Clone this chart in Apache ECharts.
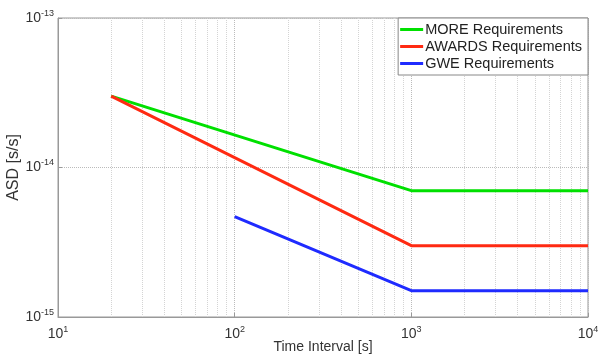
<!DOCTYPE html>
<html><head><meta charset="utf-8">
<script src="https://cdn.jsdelivr.net/npm/echarts@6/dist/echarts.min.js"></script>
<style>html,body{margin:0;padding:0;background:#fff}#c{width:599px;height:359px}</style>
</head><body><div id="c"></div>
<script>
const seriesNames = ['MORE Requirements', 'AWARDS Requirements', 'GWE Requirements'];
const moreX = [20, 1000, 10000];
const moreY = [3.0e-14, 7.0e-15, 7.0e-15];
const awardsX = [20, 1000, 10000];
const awardsY = [3.0e-14, 3.0e-15, 3.0e-15];
const gweX = [100, 1000, 10000];
const gweY = [4.7e-15, 1.5e-15, 1.5e-15];
const xMinorTicks = [20,30,40,50,60,70,80,90,200,300,400,500,600,700,800,900,2000,3000,4000,5000,6000,7000,8000,9000];
const yMinorTicks = [2e-15,3e-15,4e-15,5e-15,6e-15,7e-15,8e-15,9e-15,2e-14,3e-14,4e-14,5e-14,6e-14,7e-14,8e-14,9e-14];
const colors = ['#00e000', '#ff2a12', '#1f2bff'];

const pair = (xs, ys) => xs.map((x, i) => [x, ys[i]]);
const expLabel = v => '{b|10}{s|' + Math.round(Math.log10(v)) + '}';
const rich = { b: { fontSize: 14, color: '#333', fontFamily: 'Liberation Sans' },
               s: { fontSize: 9, color: '#333', fontFamily: 'Liberation Sans', verticalAlign: 'top', padding: [0,0,9,0] } };

const minorLines = []
  .concat(xMinorTicks.map(v => ({ xAxis: v })))
  .concat(yMinorTicks.map(v => ({ yAxis: v })));

const chart = echarts.init(document.getElementById('c'), null, { renderer: 'canvas' });
chart.setOption({
  animation: false,
  color: colors,
  textStyle: { fontFamily: 'Liberation Sans' },
  grid: { left: 58, right: 11, top: 18, bottom: 42, show: true, borderColor: '#999', borderWidth: 1,
          containLabel: false, outerBoundsMode: 'none' },
  legend: {
    orient: 'vertical', right: 11, top: 18, data: seriesNames,
    icon: 'rect', itemWidth: 23, itemHeight: 3, itemGap: 2,
    backgroundColor: '#fff', borderColor: '#888', borderWidth: 1, padding: [4, 6, 4, 2],
    textStyle: { fontSize: 14.5, color: '#222', fontFamily: 'Liberation Sans', padding: [0,0,0,-3] }
  },
  xAxis: {
    type: 'log', logBase: 10, min: 10, max: 10000,
    name: 'Time Interval [s]', nameLocation: 'middle', nameGap: 23, nameMoveOverlap: false,
    nameTextStyle: { fontSize: 14, color: '#333' },
    axisLine: { lineStyle: { color: '#999' } },
    axisTick: { inside: true, length: 4, lineStyle: { color: '#999' } },
    axisLabel: { formatter: expLabel, rich: rich, margin: 8 },
    splitLine: { show: true, lineStyle: { type: 'dotted', color: '#bbb' } }
  },
  yAxis: {
    type: 'log', logBase: 10, min: 1e-15, max: 1e-13,
    name: 'ASD [s/s]', nameLocation: 'middle', nameGap: 36, nameMoveOverlap: false,
    nameTextStyle: { fontSize: 16, color: '#333' },
    axisLine: { lineStyle: { color: '#999' } },
    axisTick: { inside: true, length: 4, lineStyle: { color: '#999' } },
    axisLabel: { formatter: expLabel, rich: rich, margin: 4 },
    splitLine: { show: true, lineStyle: { type: 'dotted', color: '#bbb' } }
  },
  series: [
    { name: seriesNames[0], type: 'line', data: pair(moreX, moreY), symbol: 'none',
      lineStyle: { width: 3 }, z: 3,
      markLine: { silent: true, symbol: 'none', label: { show: false }, animation: false,
        lineStyle: { type: 'dotted', color: '#d4d4d4', width: 1 }, data: minorLines, z: 1 } },
    { name: seriesNames[1], type: 'line', data: pair(awardsX, awardsY), symbol: 'none', lineStyle: { width: 3 }, z: 3 },
    { name: seriesNames[2], type: 'line', data: pair(gweX, gweY), symbol: 'none', lineStyle: { width: 3 }, z: 3 }
  ]
});
</script></body></html>
